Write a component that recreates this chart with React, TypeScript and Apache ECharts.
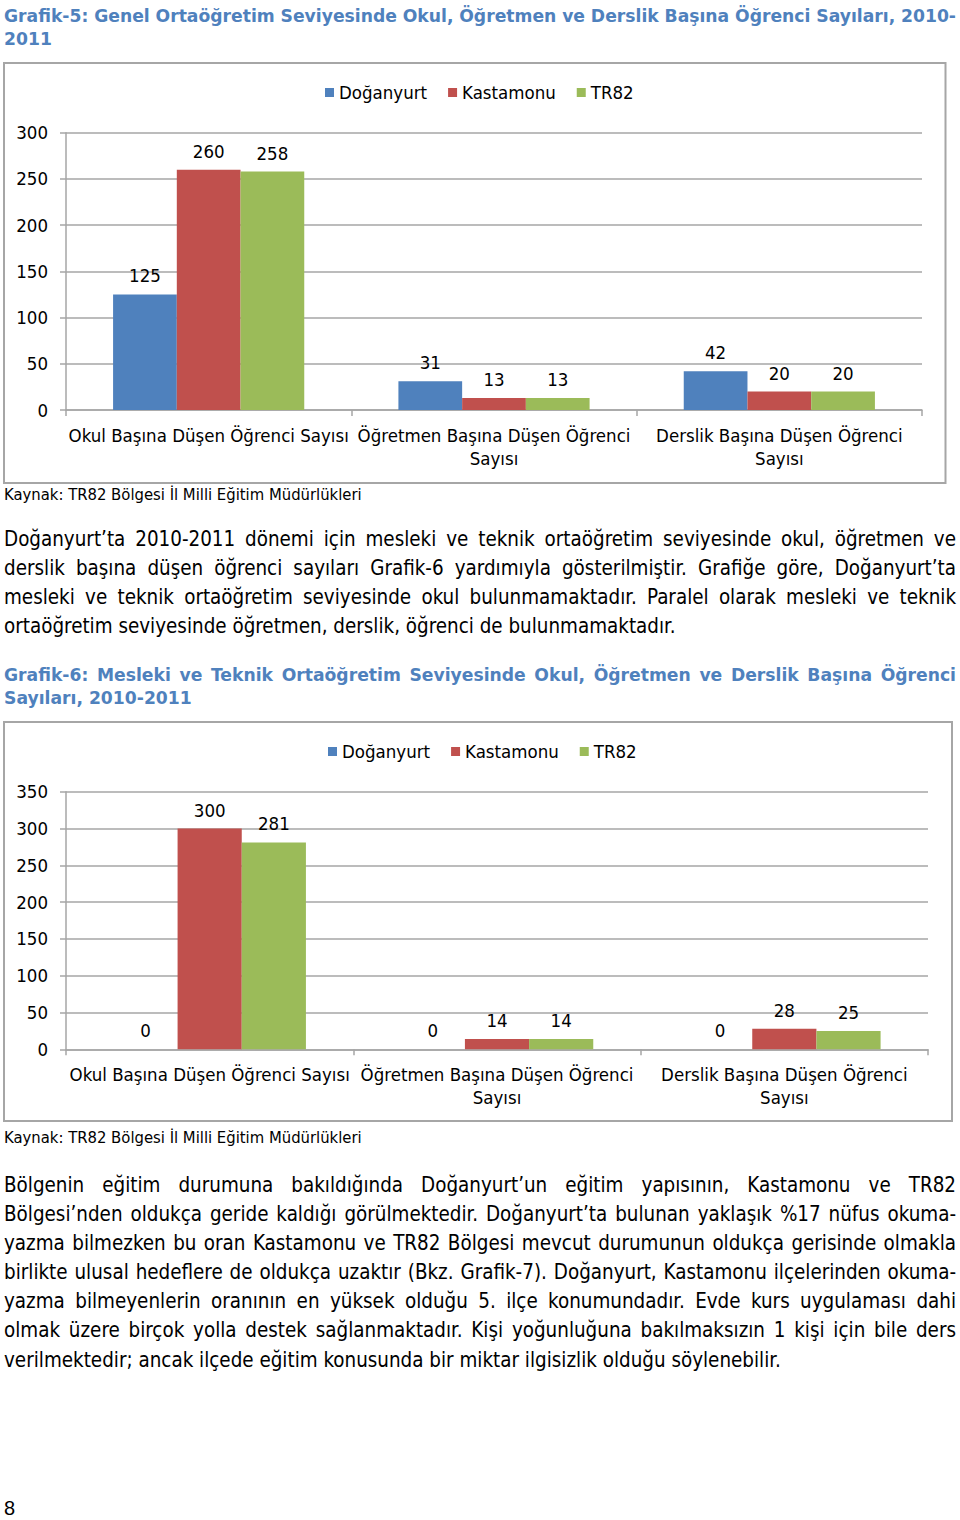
import React, { useEffect, useRef } from "react";
import * as echarts from "echarts";

// ---------- data ----------
const seriesNames = ["Doğanyurt", "Kastamonu", "TR82"];
const categories = [
  "Okul Başına Düşen Öğrenci Sayısı",
  "Öğretmen Başına Düşen Öğrenci\nSayısı",
  "Derslik Başına Düşen Öğrenci\nSayısı",
];
// Grafik-5: Genel Ortaöğretim
const genelDoganyurt = [125, 31, 42];
const genelKastamonu = [260, 13, 20];
const genelTR82 = [258, 13, 20];
const genelMax = 300;
// Grafik-6: Mesleki ve Teknik Ortaöğretim
const meslekiDoganyurt = [0, 0, 0];
const meslekiKastamonu = [300, 14, 28];
const meslekiTR82 = [281, 14, 25];
const meslekiMax = 350;
const yStep = 50;

const colors = ["#4F81BD", "#C0504D", "#9BBB59"];

// ---------- texts ----------
const title1 = [
  "Grafik-5: Genel Ortaöğretim Seviyesinde Okul, Öğretmen ve Derslik Başına Öğrenci Sayıları, 2010-",
  "2011",
];
const title2 = [
  "Grafik-6: Mesleki ve Teknik Ortaöğretim Seviyesinde Okul, Öğretmen ve Derslik Başına Öğrenci",
  "Sayıları, 2010-2011",
];
const sourceText = "Kaynak: TR82 Bölgesi İl Milli Eğitim Müdürlükleri";
const para1 = [
  "Doğanyurt’ta 2010-2011 dönemi için mesleki ve teknik ortaöğretim seviyesinde okul, öğretmen ve",
  "derslik başına düşen öğrenci sayıları Grafik-6 yardımıyla gösterilmiştir. Grafiğe göre, Doğanyurt’ta",
  "mesleki ve teknik ortaöğretim seviyesinde okul bulunmamaktadır. Paralel olarak mesleki ve teknik",
  "ortaöğretim seviyesinde öğretmen, derslik, öğrenci de bulunmamaktadır.",
];
const para2 = [
  "Bölgenin eğitim durumuna bakıldığında Doğanyurt’un eğitim yapısının, Kastamonu ve TR82",
  "Bölgesi’nden oldukça geride kaldığı görülmektedir. Doğanyurt’ta bulunan yaklaşık %17 nüfus okuma-",
  "yazma bilmezken bu oran Kastamonu ve TR82 Bölgesi mevcut durumunun oldukça gerisinde olmakla",
  "birlikte ulusal hedeflere de oldukça uzaktır  (Bkz. Grafik-7). Doğanyurt, Kastamonu ilçelerinden okuma-",
  "yazma bilmeyenlerin oranının en yüksek olduğu 5. ilçe konumundadır. Evde kurs uygulaması dahi",
  "olmak üzere birçok yolla destek sağlanmaktadır. Kişi yoğunluğuna bakılmaksızın 1 kişi için bile ders",
  "verilmektedir; ancak ilçede eğitim konusunda bir miktar ilgisizlik olduğu söylenebilir.",
];
const pageNumber = "8";

const BODY_FONT = "'DejaVu Sans Condensed', 'DejaVu Sans', sans-serif";
const TITLE_FONT = "'DejaVu Sans', sans-serif";
const TITLE_COLOR = "#4F81BD";
const GRID_COLOR = "#a6a6a6";

export default function App() {
  const ref = useRef<HTMLDivElement>(null);

  useEffect(() => {
    const el = ref.current as HTMLDivElement;
    const chart = echarts.init(el, undefined, { renderer: "svg", width: 960, height: 1520 });

    const cv = document.createElement("canvas");
    const ctx = cv.getContext("2d") as CanvasRenderingContext2D;
    const measure = (t: string, size: number, weight: string, family: string) => {
      ctx.font = `${weight} ${size}px ${family}`;
      return ctx.measureText(t).width;
    };
    const fit = (t: string, w: number, weight: string, family: string) =>
      Math.round((1000 * w) / measure(t, 100, weight, family)) / 10;

    const bodySize = fit(para1[3], 672, "normal", BODY_FONT);
    const chartSize = fit("Okul Başına Düşen Öğrenci Sayısı", 280, "normal", BODY_FONT);
    const srcSize = fit(sourceText, 357, "normal", BODY_FONT);
    const titleSize = fit("2011", 48, "bold", TITLE_FONT);

    const graphics: any[] = [];
    const addLine = (
      text: string,
      y: number,
      size: number,
      weight: string,
      family: string,
      color: string,
      justify: boolean
    ) => {
      const x0 = 4;
      const x1 = 956;
      if (!justify) {
        graphics.push({
          type: "text",
          x: x0,
          y,
          style: { text, fill: color, fontSize: size, fontWeight: weight, fontFamily: family, verticalAlign: "middle", align: "left" },
        });
        return;
      }
      const words = text.split(/\s+/);
      let s = size;
      let widths = words.map((w) => measure(w, s, weight, family));
      let total = widths.reduce((a, b) => a + b, 0);
      const minGap = measure(" ", s, weight, family) * 0.8;
      if (total + minGap * (words.length - 1) > x1 - x0) {
        s = (s * (x1 - x0 - minGap * (words.length - 1))) / total;
        widths = words.map((w) => measure(w, s, weight, family));
        total = widths.reduce((a, b) => a + b, 0);
      }
      const gap = (x1 - x0 - total) / (words.length - 1);
      let x = x0;
      words.forEach((w, i) => {
        graphics.push({
          type: "text",
          x,
          y,
          style: { text: w, fill: color, fontSize: s, fontWeight: weight, fontFamily: family, verticalAlign: "middle", align: "left" },
        });
        x += widths[i] + gap;
      });
    };

    // titles
    addLine(title1[0], 16, titleSize, "bold", TITLE_FONT, TITLE_COLOR, true);
    addLine(title1[1], 39, titleSize, "bold", TITLE_FONT, TITLE_COLOR, false);
    addLine(title2[0], 675, titleSize, "bold", TITLE_FONT, TITLE_COLOR, true);
    addLine(title2[1], 698, titleSize, "bold", TITLE_FONT, TITLE_COLOR, false);

    // sources
    addLine(sourceText, 494, srcSize, "normal", BODY_FONT, "#000", false);
    addLine(sourceText, 1137, srcSize, "normal", BODY_FONT, "#000", false);

    // paragraphs
    const p1y = [539, 568, 597, 626];
    para1.forEach((l, i) => addLine(l, p1y[i], bodySize, "normal", BODY_FONT, "#000", i < para1.length - 1));
    const p2y = [1185, 1214, 1243, 1272, 1301, 1330, 1360];
    para2.forEach((l, i) => addLine(l, p2y[i], bodySize, "normal", BODY_FONT, "#000", i < para2.length - 1));

    // page number
    graphics.push({
      type: "text",
      x: 4,
      y: 1508,
      style: { text: pageNumber, fill: "#000", fontSize: 20, fontFamily: "'Liberation Sans', Arial, sans-serif", verticalAlign: "middle" },
    });

    // chart frames
    graphics.push({
      type: "rect",
      shape: { x: 4, y: 63, width: 941.5, height: 420 },
      style: { fill: "none", stroke: GRID_COLOR, lineWidth: 2 },
      z: -1,
    });
    graphics.push({
      type: "rect",
      shape: { x: 4, y: 722, width: 948, height: 399 },
      style: { fill: "none", stroke: GRID_COLOR, lineWidth: 2 },
      z: -1,
    });

    const axisText = { fontSize: chartSize, fontFamily: BODY_FONT, color: "#000" };

    const makeX = (gridIndex: number) => ({
      type: "category",
      gridIndex,
      data: categories,
      axisLine: { show: true, lineStyle: { color: GRID_COLOR, width: 1.5 } },
      axisTick: { show: true, length: 6, lineStyle: { color: GRID_COLOR, width: 1.5 } },
      axisLabel: { ...axisText, interval: 0, margin: 14, lineHeight: 23 },
      splitLine: { show: false },
    });
    const makeY = (gridIndex: number, max: number) => ({
      type: "value",
      gridIndex,
      min: 0,
      max,
      interval: yStep,
      axisLine: { show: true, lineStyle: { color: GRID_COLOR, width: 1.5 } },
      axisTick: { show: true, length: 6, lineStyle: { color: GRID_COLOR, width: 1.5 } },
      axisLabel: { ...axisText, margin: 18 },
      splitLine: { show: true, lineStyle: { color: GRID_COLOR, width: 1.5 } },
    });

    const makeSeries = (name: string, data: number[], idx: number, color: string) => ({
      type: "bar",
      name,
      xAxisIndex: idx,
      yAxisIndex: idx,
      data,
      barGap: "0%",
      barCategoryGap: "33%",
      itemStyle: { color },
      label: { show: true, position: "top", distance: 9, ...axisText },
    });

    const legendBase = {
      data: seriesNames,
      icon: "rect",
      itemWidth: 9,
      itemHeight: 9,
      itemGap: 21,
      padding: 0,
      selectedMode: false,
      textStyle: { fontSize: chartSize, fontFamily: BODY_FONT, color: "#000" },
    };

    const option: any = {
      animation: false,
      backgroundColor: "#fff",
      color: colors,
      legend: [
        { ...legendBase, left: 325, top: 83 },
        { ...legendBase, left: 328, top: 742 },
      ],
      grid: [
        { left: 66, top: 132.7, width: 856, height: 277.3, containLabel: false, outerBoundsMode: "none" },
        { left: 66, top: 791.7, width: 862, height: 257.6, containLabel: false, outerBoundsMode: "none" },
      ],
      xAxis: [makeX(0), makeX(1)],
      yAxis: [makeY(0, genelMax), makeY(1, meslekiMax)],
      series: [
        makeSeries(seriesNames[0], genelDoganyurt, 0, colors[0]),
        makeSeries(seriesNames[1], genelKastamonu, 0, colors[1]),
        makeSeries(seriesNames[2], genelTR82, 0, colors[2]),
        makeSeries(seriesNames[0], meslekiDoganyurt, 1, colors[0]),
        makeSeries(seriesNames[1], meslekiKastamonu, 1, colors[1]),
        makeSeries(seriesNames[2], meslekiTR82, 1, colors[2]),
      ],
      graphic: graphics,
    };

    chart.setOption(option);
    return () => chart.dispose();
  }, []);

  return (
    <div
      ref={ref}
      style={{ position: "absolute", left: 0, top: 0, width: 960, height: 1520, background: "#fff" }}
    />
  );
}
